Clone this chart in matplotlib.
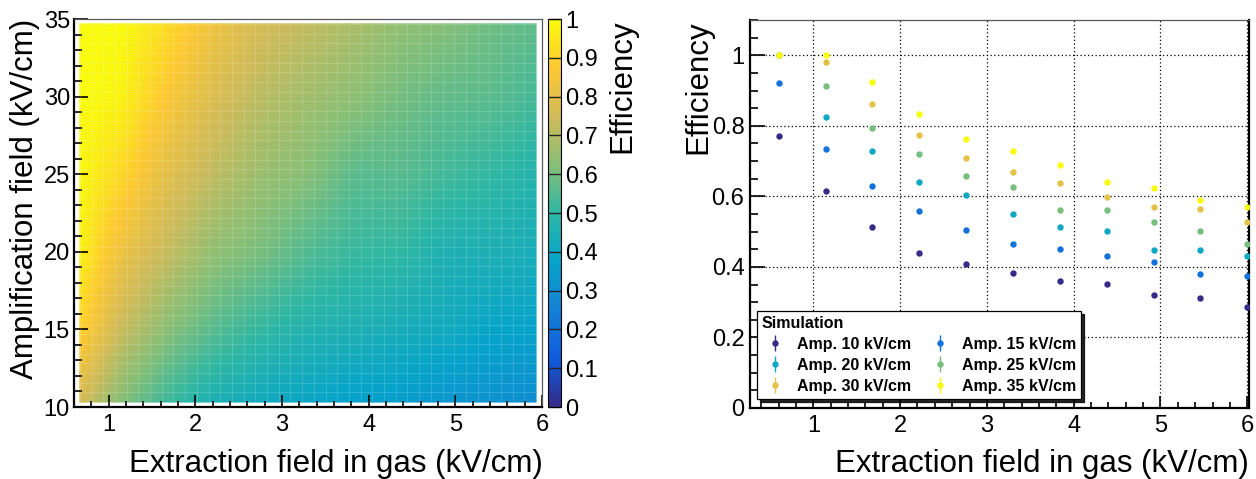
import numpy as np
import matplotlib
matplotlib.use('Agg')
import matplotlib.pyplot as plt
from matplotlib.colors import LinearSegmentedColormap
from matplotlib.ticker import MultipleLocator, FuncFormatter

plt.rcParams['font.family'] = ['Liberation Sans', 'DejaVu Sans']

# extraction field (kV/cm) and amplification field (kV/cm)
extraction = [0.6, 1.14, 1.68, 2.22, 2.76, 3.3, 3.84, 4.38, 4.92, 5.46, 6.0]
amplification = [10, 15, 20, 25, 30, 35]

eff_10 = [0.771, 0.614, 0.513, 0.440, 0.407, 0.382, 0.359, 0.351, 0.321, 0.311, 0.287]
eff_15 = [0.920, 0.735, 0.628, 0.558, 0.506, 0.465, 0.451, 0.430, 0.413, 0.380, 0.373]
eff_20 = [1.000, 0.825, 0.729, 0.641, 0.605, 0.551, 0.513, 0.503, 0.449, 0.448, 0.432]
eff_25 = [1.000, 0.914, 0.795, 0.719, 0.657, 0.626, 0.560, 0.560, 0.526, 0.501, 0.466]
eff_30 = [1.000, 0.982, 0.863, 0.774, 0.710, 0.668, 0.637, 0.597, 0.571, 0.563, 0.528]
eff_35 = [1.000, 1.000, 0.925, 0.833, 0.763, 0.728, 0.688, 0.640, 0.625, 0.589, 0.569]
series = [eff_10, eff_15, eff_20, eff_25, eff_30, eff_35]
labels = ['Amp. %d kV/cm' % a for a in amplification]

# ROOT "bird" palette
stops = [0, 0.125, 0.25, 0.375, 0.5, 0.625, 0.75, 0.875, 1]
red = [0.2082, 0.0592, 0.0780, 0.0232, 0.1802, 0.5301, 0.8186, 0.9956, 0.9764]
green = [0.1664, 0.3599, 0.5041, 0.6419, 0.7178, 0.7492, 0.7328, 0.7862, 0.9832]
blue = [0.5293, 0.8684, 0.8385, 0.7914, 0.6425, 0.4662, 0.3499, 0.1968, 0.0539]
bird = LinearSegmentedColormap.from_list('bird', list(zip(stops, zip(red, green, blue))), N=255)

W, H = 1256, 479
fig = plt.figure(figsize=(W / 100, H / 100), dpi=100)

def frac(x0, y0, x1, y1):
    return [x0 / W, 1 - y1 / H, (x1 - x0) / W, (y1 - y0) / H]

ax1 = fig.add_axes(frac(74, 19, 542, 407))
cax = fig.add_axes(frac(548, 19, 561, 407))
ax2 = fig.add_axes(frac(750, 20, 1249, 408))

# ---- left: interpolated map (bilinear on the simulation grid)
z = np.array(series)
xs = np.array(extraction)
ys = np.array(amplification, dtype=float)
nb = 40
bx = (xs[-1] - xs[0]) / nb
by = (ys[-1] - ys[0]) / nb
xc = np.linspace(xs[0] + bx / 2, xs[-1] - bx / 2, nb)
yc = np.linspace(ys[0] + by / 2, ys[-1] - by / 2, nb)
tmp = np.array([np.interp(xc, xs, row) for row in z])          # (6, nb)
zz = np.array([np.interp(yc, ys, tmp[:, i]) for i in range(nb)]).T  # (nb, nb)

mesh = ax1.pcolormesh(xc, yc, zz, cmap=bird, vmin=0, vmax=1, shading='gouraud')
ax1.vlines(xc, yc[0], yc[-1], color='white', alpha=0.18, lw=0.6)
ax1.hlines(yc, xc[0], xc[-1], color='white', alpha=0.18, lw=0.6)
ax1.set_xlim(0.6, 6.0)
ax1.set_ylim(10, 35)

fmt = FuncFormatter(lambda v, p: '%g' % round(v, 3))

ax1.xaxis.set_major_locator(MultipleLocator(1))
ax1.xaxis.set_minor_locator(MultipleLocator(0.2))
ax1.yaxis.set_major_locator(MultipleLocator(5))
ax1.yaxis.set_minor_locator(MultipleLocator(1))
ax1.tick_params(axis='x', which='major', direction='in', length=8.5, width=1.2, labelsize=17, pad=5)
ax1.tick_params(axis='x', which='minor', direction='in', length=4, width=1.2)
ax1.tick_params(axis='y', which='major', direction='in', length=10, width=1.2, labelsize=17, pad=3)
ax1.tick_params(axis='y', which='minor', direction='in', length=5.5, width=1.2)
for s in ['left', 'bottom']:
    ax1.spines[s].set_linewidth(1.6)
for s in ['top', 'right']:
    ax1.spines[s].set_linewidth(0.9)
    ax1.spines[s].set_color('0.35')

cb = fig.colorbar(mesh, cax=cax)
cb.set_ticks(np.arange(0, 1.01, 0.1))
cb.ax.yaxis.set_major_formatter(fmt)
cb.ax.tick_params(direction='in', length=9.5, width=1.0, labelsize=17, pad=3, color='0.15')
cb.ax.minorticks_off()
cb.outline.set_linewidth(0.8)

fig.text(25 / W, 1 - 19 / H, 'Amplification field (kV/cm)', rotation=90,
         ha='center', va='top', fontsize=22.5)
fig.text(543 / W, 1 - 472 / H, 'Extraction field in gas (kV/cm)',
         ha='right', va='baseline', fontsize=22.5)
fig.text(622 / W, 1 - 19 / H, 'Efficiency', rotation=90,
         ha='center', va='top', fontsize=22.5)

# ---- right: efficiency vs extraction field
colors = [bird(i / 5) for i in range(6)]
for eff, c in zip(series, colors):
    ax2.plot(extraction, eff, 'o', color=c, ms=4.6, mew=0, zorder=3)

ax2.set_xlim(0.27, 6.02)
ax2.set_ylim(0, 1.1)
ax2.xaxis.set_major_locator(MultipleLocator(1))
ax2.xaxis.set_minor_locator(MultipleLocator(0.2))
ax2.yaxis.set_major_locator(MultipleLocator(0.2))
ax2.yaxis.set_minor_locator(MultipleLocator(0.05))
ax2.yaxis.set_major_formatter(fmt)
ax2.grid(True, which='major', color='k', ls=(0, (1, 2)), lw=0.9)
ax2.tick_params(axis='x', which='major', direction='in', length=8.5, width=1.2, labelsize=17, pad=5)
ax2.tick_params(axis='x', which='minor', direction='in', length=4, width=1.2)
ax2.tick_params(axis='y', which='major', direction='in', length=11, width=1.2, labelsize=17, pad=4)
ax2.tick_params(axis='y', which='minor', direction='in', length=5.5, width=1.2)
for s in ['left', 'bottom', 'right']:
    ax2.spines[s].set_linewidth(1.6)
ax2.spines['top'].set_linewidth(0.9)
ax2.spines['top'].set_color('0.35')

fig.text(698 / W, 1 - 20 / H, 'Efficiency', rotation=90,
         ha='center', va='top', fontsize=22.5)
fig.text(1249 / W, 1 - 472 / H, 'Extraction field in gas (kV/cm)',
         ha='right', va='baseline', fontsize=22.5)

# legend with error-bar style entries
handles = []
for c in colors:
    h = ax2.errorbar([np.nan], [np.nan], yerr=[0.0], fmt='o', color=c, ms=4.6,
                     mew=0, elinewidth=1.0, capsize=2.0)
    handles.append(h)
order = [0, 2, 4, 1, 3, 5]
leg = ax2.legend([handles[i] for i in order], [labels[i] for i in order],
                 ncol=2, loc='upper left',
                 bbox_to_anchor=(757 / W, 1 - 311 / H), bbox_transform=fig.transFigure,
                 borderaxespad=0, title='Simulation', alignment='left',
                 prop={'weight': 'bold', 'size': 11.5},
                 title_fontproperties={'weight': 'bold', 'size': 11.5},
                 frameon=True, fancybox=False, shadow={'color': 'k', 'alpha': 0.85},
                 handlelength=1.6, handletextpad=0.6, columnspacing=1.0,
                 labelspacing=0.38, borderpad=0.3)
leg.get_frame().set_edgecolor('k')
leg.get_frame().set_linewidth(0.9)
leg.set_zorder(5)

fig.savefig('out.png', dpi=100)
